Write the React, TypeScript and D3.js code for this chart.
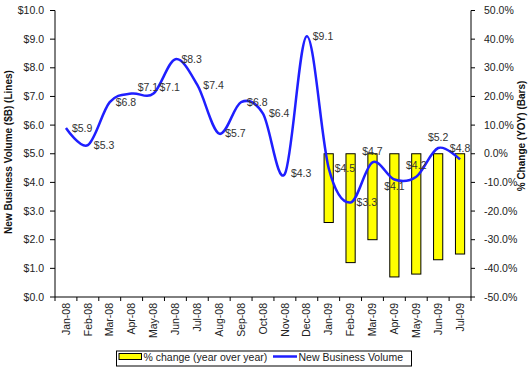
import React from "react";
import * as d3 from "d3";

const categories = ["Jan-08","Feb-08","Mar-08","Apr-08","May-08","Jun-08","Jul-08","Aug-08","Sep-08","Oct-08","Nov-08","Dec-08","Jan-09","Feb-09","Mar-09","Apr-09","May-09","Jun-09","Jul-09"];
const volume = [5.9,5.3,6.8,7.1,7.1,8.3,7.4,5.7,6.8,6.4,4.3,9.1,4.5,3.3,4.7,4.1,4.2,5.2,4.8];
const pctCategories = ["Jan-09","Feb-09","Mar-09","Apr-09","May-09","Jun-09","Jul-09"];
const pctChange = [-24,-38,-30,-43,-42,-37,-35];
const labelPos = ["right","right","right","rightUp","rightUp","right","right","right","right","right","right","right","right","right","above","below","above","above","above"];
const leftTicks = [0,1,2,3,4,5,6,7,8,9,10];
const rightTicks = [-50,-40,-30,-20,-10,0,10,20,30,40,50];

const W = 530, H = 369;
const L = 55, R = 471, T = 10.5, B = 297;
const FONT = "'Liberation Sans', Arial, sans-serif";

export default function App() {
  const x = d3.scaleBand<string>().domain(categories).range([L, R]).padding(0);
  const yL = d3.scaleLinear().domain([0, 10]).range([B, T]);
  const yR = d3.scaleLinear().domain([-50, 50]).range([B, T]);
  const cx = (c: string) => (x(c) as number) + x.bandwidth() / 2;
  const bw = x.bandwidth() * 0.42;

  const line = d3.line<number>()
    .x((_, i) => cx(categories[i]))
    .y((d) => yL(d))
    .curve(d3.curveCatmullRom.alpha(0));

  const tickColor = "#222";
  return (
    <svg width={W} height={H} style={{ position: "absolute", left: 0, top: 0, background: "#fff" }} fontFamily={FONT}>
      {/* bars */}
      {pctChange.map((v, i) => (
        <rect key={"b" + i} x={cx(pctCategories[i]) - bw / 2} y={yR(0)} width={bw} height={yR(v) - yR(0)}
          fill="#FFFF00" stroke="#000" strokeWidth={1} />
      ))}
      {/* line */}
      <path d={line(volume) || ""} fill="none" stroke="#1f1fff" strokeWidth={2.5} />
      {/* data labels */}
      {volume.map((v, i) => {
        const px = cx(categories[i]);
        const py = yL(v);
        const p = labelPos[i];
        let tx = px + 6, ty = py, anchor = "start";
        if (p === "rightUp") { ty = py - 6; }
        if (p === "above") { tx = px; ty = py - 11; anchor = "middle"; }
        if (p === "below") { tx = px; ty = py + 7; anchor = "middle"; }
        return (
          <text key={"l" + i} x={tx} y={ty} dy="0.35em" textAnchor={anchor} fontSize={10.5} fill="#333">
            {"$" + v.toFixed(1)}
          </text>
        );
      })}
      {/* axes lines */}
      <line x1={L} x2={L} y1={T} y2={B} stroke="#000" />
      <line x1={R} x2={R} y1={T} y2={B} stroke="#000" />
      <line x1={L} x2={R} y1={B} y2={B} stroke="#000" />
      {/* left ticks */}
      {leftTicks.map((t) => (
        <g key={"lt" + t}>
          <line x1={L - 5} x2={L} y1={yL(t)} y2={yL(t)} stroke="#000" />
          <text x={L - 11} y={yL(t)} dy="0.35em" textAnchor="end" fontSize={10.5} fill={tickColor}>
            {"$" + t.toFixed(1)}
          </text>
        </g>
      ))}
      {/* right ticks */}
      {rightTicks.map((t) => (
        <g key={"rt" + t}>
          <line x1={R} x2={R + 4} y1={yR(t)} y2={yR(t)} stroke="#000" />
          <text x={R + 13} y={yR(t)} dy="0.35em" textAnchor="start" fontSize={10.5} fill={tickColor}>
            {t.toFixed(1) + "%"}
          </text>
        </g>
      ))}
      {/* x ticks */}
      {categories.map((c, i) => (
        <line key={"xt" + i} x1={x(c) as number} x2={x(c) as number} y1={B} y2={B + 4} stroke="#000" />
      ))}
      <line x1={R} x2={R} y1={B} y2={B + 4} stroke="#000" />
      {categories.map((c, i) => (
        <text key={"xl" + i} transform={`translate(${cx(c)},${B + 6}) rotate(-90)`} dy="0.35em" textAnchor="end"
          fontSize={10.5} fill={tickColor}>{c}</text>
      ))}
      {/* axis titles */}
      <text transform={`translate(8,152) rotate(-90)`} dy="0.35em" textAnchor="middle" fontSize={10} fontWeight="bold" fill="#111">
        New Business Volume ($B) (Lines)
      </text>
      <text transform={`translate(521.5,136) rotate(-90)`} dy="0.35em" textAnchor="middle" fontSize={10} fontWeight="bold" fill="#111">
        % Change (YOY) (Bars)
      </text>
      {/* legend */}
      <rect x={116.5} y={351} width={295} height={15} fill="#fff" stroke="#000" />
      <rect x={119} y={353.5} width={22.5} height={6} fill="#FFFF00" stroke="#000" />
      <text x={143.5} y={357} dy="0.35em" fontSize={10.5} fill={tickColor}>% change (year over year)</text>
      <line x1={273} x2={297} y1={356.5} y2={356.5} stroke="#1f1fff" strokeWidth={2.5} />
      <text x={298.5} y={357} dy="0.35em" fontSize={10.5} fill={tickColor}>New Business Volume</text>
    </svg>
  );
}
